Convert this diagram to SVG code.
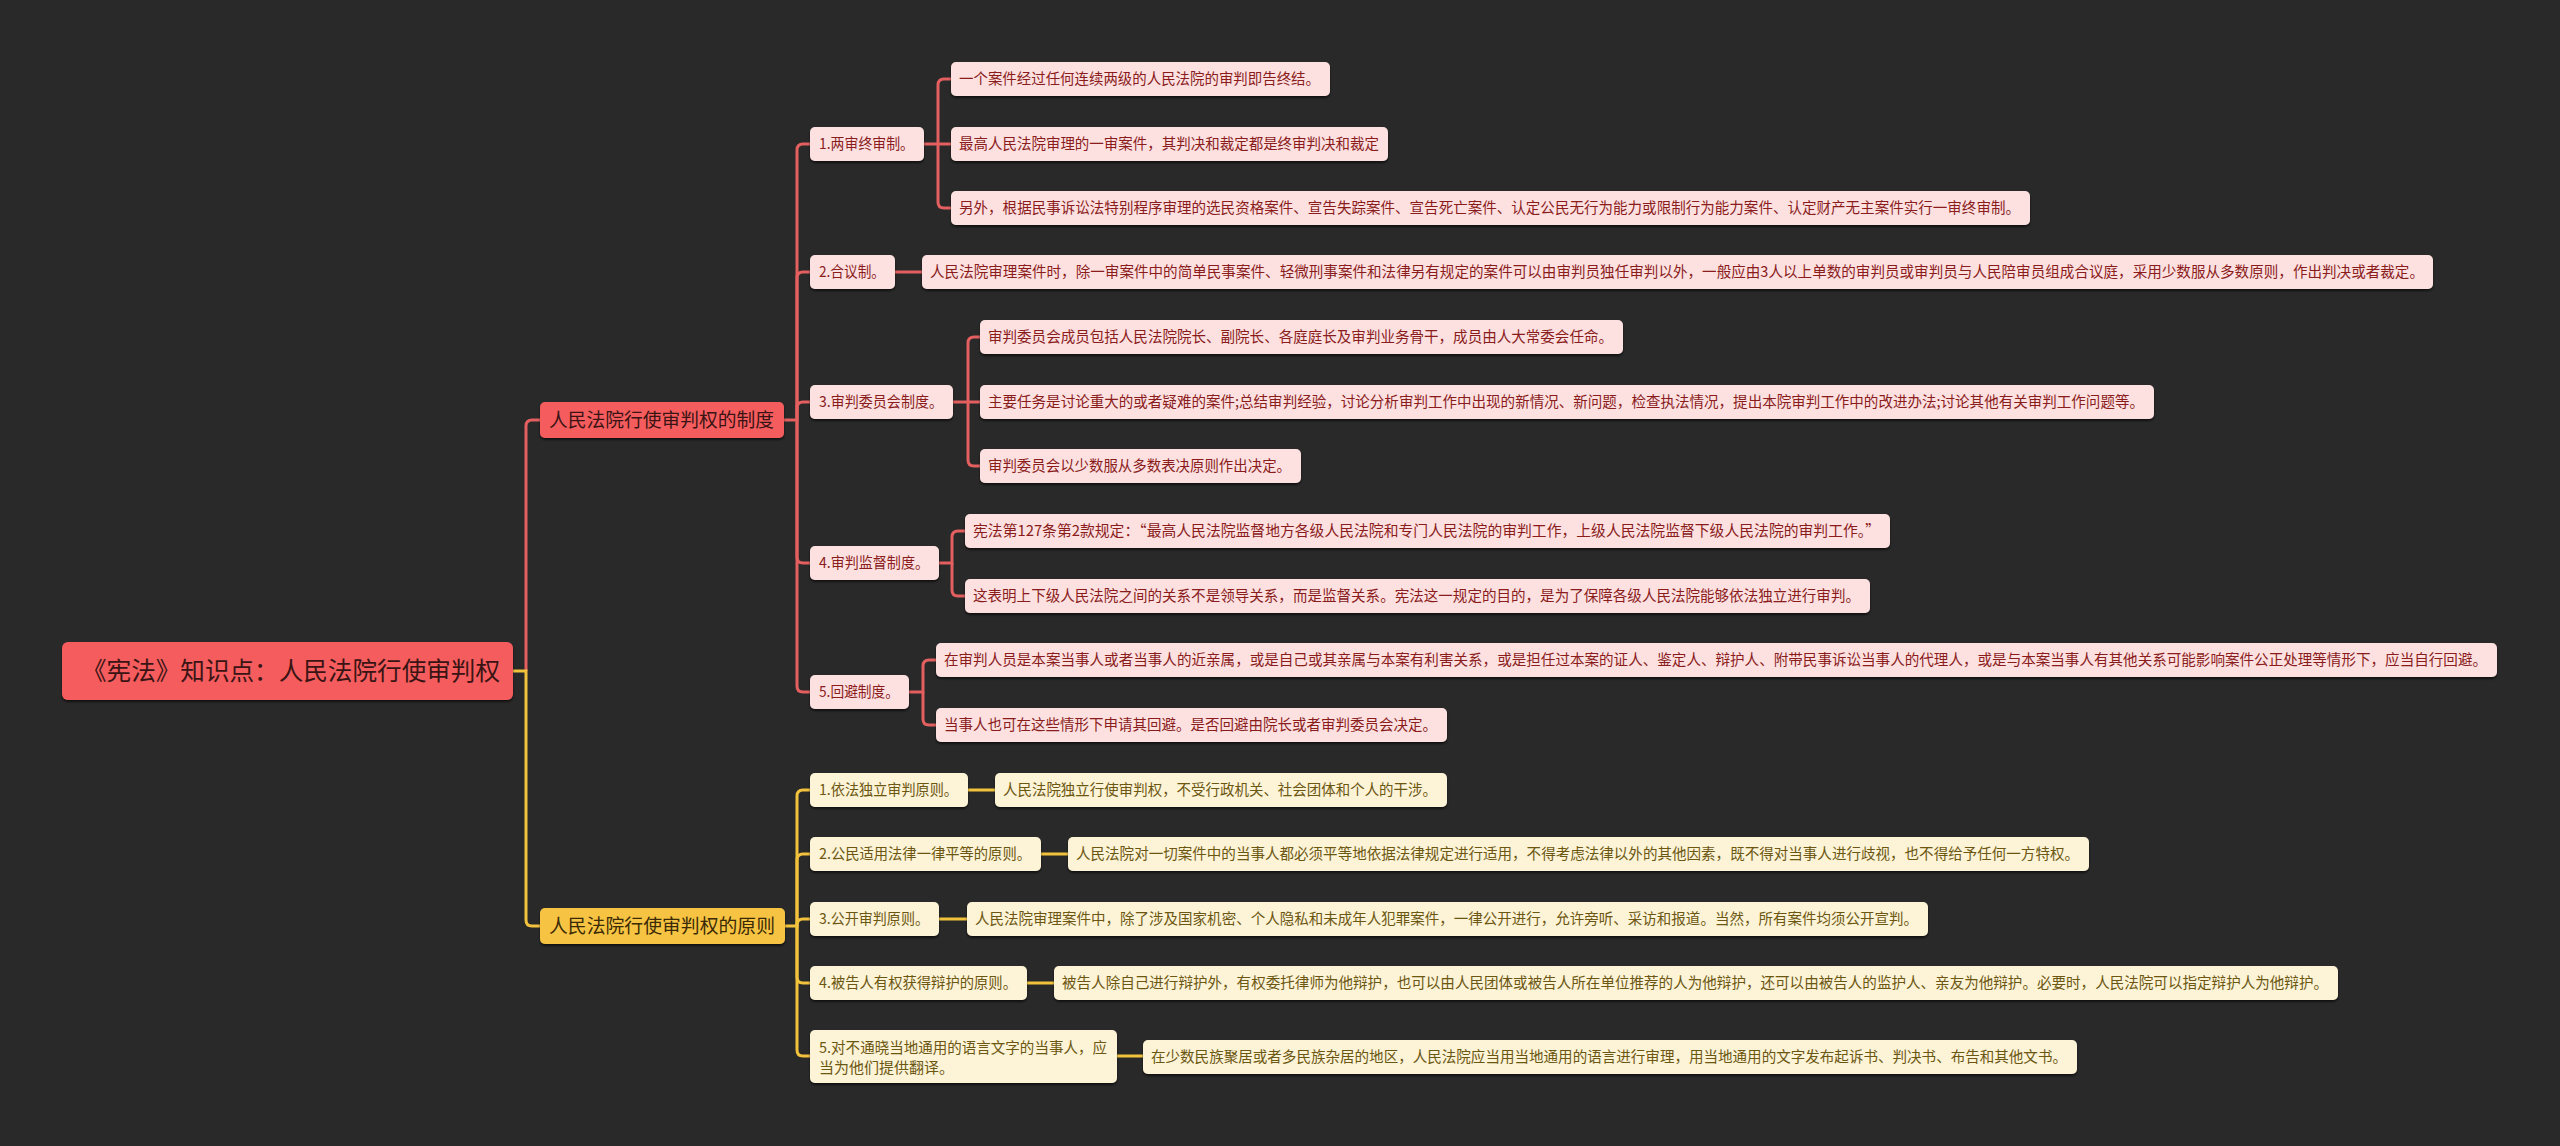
<svg xmlns="http://www.w3.org/2000/svg" width="2560" height="1146" viewBox="0 0 2560 1146">
<defs>
<filter id="sh" x="-5%" y="-20%" width="110%" height="150%">
<feDropShadow dx="0" dy="2" stdDeviation="1" flood-color="#000" flood-opacity="0.6"/>
</filter>
<style>
text{font-family:"Noto Sans CJK SC","Noto Sans",sans-serif;}
.root rect{fill:#f55b5d;filter:url(#sh);}
.root text{font-size:25px;fill:#3a1414;}
.l1r rect{fill:#f55b5d;filter:url(#sh);}
.l1r text{font-size:19px;fill:#3a1414;}
.l1y rect{fill:#f6c443;filter:url(#sh);}
.l1y text{font-size:19px;fill:#3a2a06;}
.r rect{fill:#fde1e1;filter:url(#sh);}
.r text{font-size:15px;fill:#8a1c1c;}
.y rect{fill:#fdf3d6;filter:url(#sh);}
.y text{font-size:15px;fill:#6b5712;}
.cr{fill:none;stroke:#e45f5f;stroke-width:3;}
.cy{fill:none;stroke:#f2c23c;stroke-width:3;}
</style>
</defs>
<rect x="0" y="0" width="2560" height="1146" fill="#292929"/>

<g id="connectors">
<path class="cr" d="M526,671 V426 Q526,420 532,420 H540"/>
<path class="cy" d="M513,671 H526 V920 Q526,926 532,926 H540"/>

<path class="cr" d="M784,420 H797 V150 Q797,144 803,144 H810"/>
<path class="cr" d="M797,420 V278 Q797,272 803,272 H810"/>
<path class="cr" d="M797,420 V408 Q797,402 803,402 H810"/>
<path class="cr" d="M797,420 V557 Q797,563 803,563 H810"/>
<path class="cr" d="M797,420 V686 Q797,692 803,692 H810"/>

<path class="cy" d="M785,926 H797 V796 Q797,790 803,790 H810"/>
<path class="cy" d="M797,926 V860 Q797,854 803,854 H810"/>
<path class="cy" d="M797,926 V925 Q797,919 803,919 H810"/>
<path class="cy" d="M797,926 V977 Q797,983 803,983 H810"/>
<path class="cy" d="M797,926 V1050 Q797,1056 803,1056 H810"/>

<path class="cr" d="M924,144 H938 V85 Q938,79 944,79 H951"/>
<path class="cr" d="M938,144 H951"/>
<path class="cr" d="M938,144 V202 Q938,208 944,208 H951"/>

<path class="cr" d="M895,272 H922"/>

<path class="cr" d="M953,402 H968 V343 Q968,337 974,337 H980"/>
<path class="cr" d="M968,402 H980"/>
<path class="cr" d="M968,402 V460 Q968,466 974,466 H980"/>

<path class="cr" d="M939,563 H952 V537 Q952,531 958,531 H965"/>
<path class="cr" d="M952,563 V590 Q952,596 958,596 H965"/>

<path class="cr" d="M909,692 H923 V666 Q923,660 929,660 H936"/>
<path class="cr" d="M923,692 V719 Q923,725 929,725 H936"/>

<path class="cy" d="M968,790 H995"/>
<path class="cy" d="M1041,854 H1068"/>
<path class="cy" d="M939,919 H967"/>
<path class="cy" d="M1027,983 H1054"/>
<path class="cy" d="M1117,1056 H1143"/>
</g>

<g id="root" class="root">
<rect x="62" y="642" width="451" height="58" rx="6"/>
<text x="82" y="680" textLength="418" lengthAdjust="spacingAndGlyphs">《宪法》知识点：人民法院行使审判权</text>
</g>

<g id="nA" class="l1r">
<rect x="540" y="402" width="244" height="36" rx="5"/>
<text x="549" y="427" textLength="225" lengthAdjust="spacingAndGlyphs">人民法院行使审判权的制度</text>
</g>
<g id="nB" class="l1y">
<rect x="540" y="908" width="245" height="36" rx="5"/>
<text x="549" y="933" textLength="226" lengthAdjust="spacingAndGlyphs">人民法院行使审判权的原则</text>
</g>

<g id="nA1" class="r">
<rect x="810" y="127" width="114" height="34" rx="5"/>
<text x="819" y="149" textLength="95" lengthAdjust="spacingAndGlyphs">1.两审终审制。</text>
</g>
<g id="nA1a" class="r">
<rect x="951" y="62" width="379" height="34" rx="5"/>
<text x="959" y="84" textLength="361" lengthAdjust="spacingAndGlyphs">一个案件经过任何连续两级的人民法院的审判即告终结。</text>
</g>
<g id="nA1b" class="r">
<rect x="951" y="127" width="437" height="34" rx="5"/>
<text x="959" y="149" textLength="420" lengthAdjust="spacingAndGlyphs">最高人民法院审理的一审案件，其判决和裁定都是终审判决和裁定</text>
</g>
<g id="nA1c" class="r">
<rect x="951" y="191" width="1079" height="34" rx="5"/>
<text x="959" y="213" textLength="1061" lengthAdjust="spacingAndGlyphs">另外，根据民事诉讼法特别程序审理的选民资格案件、宣告失踪案件、宣告死亡案件、认定公民无行为能力或限制行为能力案件、认定财产无主案件实行一审终审制。</text>
</g>

<g id="nA2" class="r">
<rect x="810" y="255" width="85" height="34" rx="5"/>
<text x="819" y="277" textLength="66" lengthAdjust="spacingAndGlyphs">2.合议制。</text>
</g>
<g id="nA2a" class="r">
<rect x="922" y="255" width="1511" height="34" rx="5"/>
<text x="930" y="277" textLength="1494" lengthAdjust="spacingAndGlyphs">人民法院审理案件时，除一审案件中的简单民事案件、轻微刑事案件和法律另有规定的案件可以由审判员独任审判以外，一般应由3人以上单数的审判员或审判员与人民陪审员组成合议庭，采用少数服从多数原则，作出判决或者裁定。</text>
</g>

<g id="nA3" class="r">
<rect x="810" y="385" width="143" height="34" rx="5"/>
<text x="819" y="407" textLength="124" lengthAdjust="spacingAndGlyphs">3.审判委员会制度。</text>
</g>
<g id="nA3a" class="r">
<rect x="980" y="320" width="643" height="34" rx="5"/>
<text x="988" y="342" textLength="625" lengthAdjust="spacingAndGlyphs">审判委员会成员包括人民法院院长、副院长、各庭庭长及审判业务骨干，成员由人大常委会任命。</text>
</g>
<g id="nA3b" class="r">
<rect x="980" y="385" width="1174" height="34" rx="5"/>
<text x="988" y="407" textLength="1156" lengthAdjust="spacingAndGlyphs">主要任务是讨论重大的或者疑难的案件;总结审判经验，讨论分析审判工作中出现的新情况、新问题，检查执法情况，提出本院审判工作中的改进办法;讨论其他有关审判工作问题等。</text>
</g>
<g id="nA3c" class="r">
<rect x="980" y="449" width="321" height="34" rx="5"/>
<text x="988" y="471" textLength="303" lengthAdjust="spacingAndGlyphs">审判委员会以少数服从多数表决原则作出决定。</text>
</g>

<g id="nA4" class="r">
<rect x="810" y="546" width="129" height="34" rx="5"/>
<text x="819" y="568" textLength="110" lengthAdjust="spacingAndGlyphs">4.审判监督制度。</text>
</g>
<g id="nA4a" class="r">
<rect x="965" y="514" width="925" height="34" rx="5"/>
<text x="973" y="536" textLength="907" lengthAdjust="spacingAndGlyphs">宪法第127条第2款规定：“最高人民法院监督地方各级人民法院和专门人民法院的审判工作，上级人民法院监督下级人民法院的审判工作。”</text>
</g>
<g id="nA4b" class="r">
<rect x="965" y="579" width="905" height="34" rx="5"/>
<text x="973" y="601" textLength="887" lengthAdjust="spacingAndGlyphs">这表明上下级人民法院之间的关系不是领导关系，而是监督关系。宪法这一规定的目的，是为了保障各级人民法院能够依法独立进行审判。</text>
</g>

<g id="nA5" class="r">
<rect x="810" y="675" width="99" height="34" rx="5"/>
<text x="819" y="697" textLength="80" lengthAdjust="spacingAndGlyphs">5.回避制度。</text>
</g>
<g id="nA5a" class="r">
<rect x="936" y="643" width="1561" height="34" rx="5"/>
<text x="944" y="665" textLength="1543" lengthAdjust="spacingAndGlyphs">在审判人员是本案当事人或者当事人的近亲属，或是自己或其亲属与本案有利害关系，或是担任过本案的证人、鉴定人、辩护人、附带民事诉讼当事人的代理人，或是与本案当事人有其他关系可能影响案件公正处理等情形下，应当自行回避。</text>
</g>
<g id="nA5b" class="r">
<rect x="936" y="708" width="511" height="34" rx="5"/>
<text x="944" y="730" textLength="493" lengthAdjust="spacingAndGlyphs">当事人也可在这些情形下申请其回避。是否回避由院长或者审判委员会决定。</text>
</g>

<g id="nB1" class="y">
<rect x="810" y="773" width="158" height="34" rx="5"/>
<text x="819" y="795" textLength="139" lengthAdjust="spacingAndGlyphs">1.依法独立审判原则。</text>
</g>
<g id="nB1a" class="y">
<rect x="995" y="773" width="452" height="34" rx="5"/>
<text x="1003" y="795" textLength="434" lengthAdjust="spacingAndGlyphs">人民法院独立行使审判权，不受行政机关、社会团体和个人的干涉。</text>
</g>
<g id="nB2" class="y">
<rect x="810" y="837" width="231" height="34" rx="5"/>
<text x="819" y="859" textLength="212" lengthAdjust="spacingAndGlyphs">2.公民适用法律一律平等的原则。</text>
</g>
<g id="nB2a" class="y">
<rect x="1068" y="837" width="1021" height="34" rx="5"/>
<text x="1076" y="859" textLength="1003" lengthAdjust="spacingAndGlyphs">人民法院对一切案件中的当事人都必须平等地依据法律规定进行适用，不得考虑法律以外的其他因素，既不得对当事人进行歧视，也不得给予任何一方特权。</text>
</g>
<g id="nB3" class="y">
<rect x="810" y="902" width="129" height="34" rx="5"/>
<text x="819" y="924" textLength="110" lengthAdjust="spacingAndGlyphs">3.公开审判原则。</text>
</g>
<g id="nB3a" class="y">
<rect x="967" y="902" width="961" height="34" rx="5"/>
<text x="975" y="924" textLength="943" lengthAdjust="spacingAndGlyphs">人民法院审理案件中，除了涉及国家机密、个人隐私和未成年人犯罪案件，一律公开进行，允许旁听、采访和报道。当然，所有案件均须公开宣判。</text>
</g>
<g id="nB4" class="y">
<rect x="810" y="966" width="217" height="34" rx="5"/>
<text x="819" y="988" textLength="198" lengthAdjust="spacingAndGlyphs">4.被告人有权获得辩护的原则。</text>
</g>
<g id="nB4a" class="y">
<rect x="1054" y="966" width="1284" height="34" rx="5"/>
<text x="1062" y="988" textLength="1266" lengthAdjust="spacingAndGlyphs">被告人除自己进行辩护外，有权委托律师为他辩护，也可以由人民团体或被告人所在单位推荐的人为他辩护，还可以由被告人的监护人、亲友为他辩护。必要时，人民法院可以指定辩护人为他辩护。</text>
</g>
<g id="nB5" class="y">
<rect x="810" y="1030" width="307" height="53" rx="5"/>
<text x="819" y="1053" textLength="288" lengthAdjust="spacingAndGlyphs">5.对不通晓当地通用的语言文字的当事人，应</text>
<text x="819" y="1073">当为他们提供翻译。</text>
</g>
<g id="nB5a" class="y">
<rect x="1143" y="1040" width="934" height="34" rx="5"/>
<text x="1151" y="1062" textLength="916" lengthAdjust="spacingAndGlyphs">在少数民族聚居或者多民族杂居的地区，人民法院应当用当地通用的语言进行审理，用当地通用的文字发布起诉书、判决书、布告和其他文书。</text>
</g>
</svg>
